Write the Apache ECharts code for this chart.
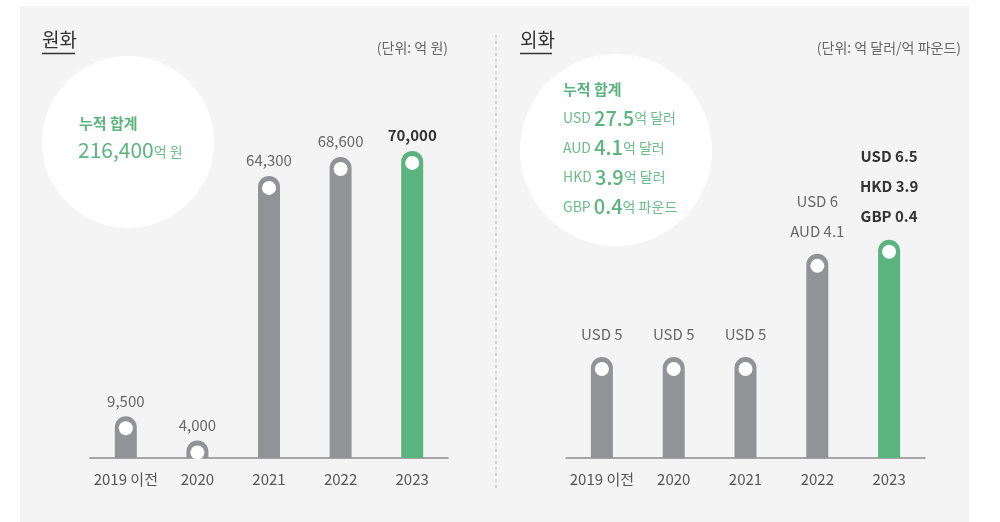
<!DOCTYPE html>
<html>
<head>
<meta charset="utf-8">
<title>원화 / 외화</title>
<script src="https://cdn.jsdelivr.net/npm/echarts@6/dist/echarts.min.js"></script>
<style>
  html, body { margin: 0; padding: 0; background: #fff; }
  #chart { width: 1000px; height: 522px; }
</style>
</head>
<body>
<div id="chart"></div>
<script>
// 카테고리 / 값
var years = ['2019 이전', '2020', '2021', '2022', '2023'];
// 원화 (억 원)
var krwValues = [9500, 4000, 64300, 68600, 70000];
// 외화 (억 달러/억 파운드) - 막대 높이는 통화별 합계
var fxValues = [5, 5, 5, 10.1, 10.8];
// 외화 라벨 (줄 단위)
var fxLabels = [
  ['USD 5'],
  ['USD 5'],
  ['USD 5'],
  ['USD 6', 'AUD 4.1'],
  ['USD 6.5', 'HKD 3.9', 'GBP 0.4']
];
// 누적 합계
var krwTotal = '216,400';
var fxTotals = [
  ['USD', '27.5', '억 달러'],
  ['AUD', '4.1', '억 달러'],
  ['HKD', '3.9', '억 달러'],
  ['GBP', '0.4', '억 파운드']
];

var GRAY = '#929396';
var GREEN = '#5bb47e';
var FONT = '"Noto Sans CJK KR", "Noto Sans", sans-serif';

var chart = echarts.init(document.getElementById('chart'));

function barData(vals) {
  return vals.map(function (v, i) {
    return {
      value: v,
      itemStyle: { color: i === vals.length - 1 ? GREEN : GRAY }
    };
  });
}

function krwLabel(p) {
  var s = p.value.toLocaleString('en-US');
  return p.dataIndex === krwValues.length - 1 ? '{b|' + s + '}' : '{n|' + s + '}';
}

function fxLabel(p) {
  var lines = fxLabels[p.dataIndex];
  var st = p.dataIndex === fxLabels.length - 1 ? 'b' : 'n';
  return lines.map(function (l) { return '{' + st + '|' + l + '}'; }).join('\n');
}

var xAxisBase = {
  type: 'category',
  axisTick: { show: false },
  axisLine: { lineStyle: { color: '#8c8c8c', width: 1.5 } },
  axisLabel: { color: '#555', fontSize: 15, fontFamily: FONT, margin: 14, interval: 0 }
};

// 누적 합계 텍스트 (오른쪽 원)
var fxText = [];
fxTotals.forEach(function (r, i) {
  fxText.push({
    type: 'text', left: 563, top: 108 + i * 29.5,
    style: {
      text: '{c|' + r[0] + ' }{v|' + r[1] + '}{u|' + r[2] + '}',
      rich: {
        c: { fontSize: 14, fill: '#6cbd8a', fontFamily: FONT },
        v: { fontSize: 20, fill: GREEN, fontFamily: FONT, fontWeight: 500 },
        u: { fontSize: 14, fill: '#6cbd8a', fontFamily: FONT }
      }
    }
  });
});

chart.setOption({
  animation: false,
  textStyle: { fontFamily: FONT },
  graphic: [
    { type: 'rect', z: -10, shape: { x: 20, y: 6, width: 949, height: 516 }, style: { fill: '#f5f4f5' } },
    { type: 'line', shape: { x1: 496, y1: 35, x2: 496, y2: 490 }, style: { stroke: '#b5b5b5', lineWidth: 1, lineDash: [3, 3] } },
    // 원화
    { type: 'text', left: 42, top: 30, style: { text: '원화', fontSize: 19, fill: '#333', fontFamily: FONT } },
    { type: 'line', shape: { x1: 42, y1: 53.5, x2: 75, y2: 53.5 }, style: { stroke: '#333', lineWidth: 1.5 } },
    { type: 'text', right: 552, top: 41, style: { text: '(단위: 억 원)', fontSize: 14, fill: '#666', fontFamily: FONT, align: 'right' } },
    { type: 'circle', shape: { cx: 128, cy: 142, r: 86 }, style: { fill: '#fff' } },
    { type: 'text', left: 79, top: 116, style: { text: '누적 합계', fontSize: 15, fontWeight: 'bold', fill: GREEN, fontFamily: FONT } },
    { type: 'text', left: 78, top: 140, style: {
      text: '{v|' + krwTotal + '}{u|억 원}',
      rich: {
        v: { fontSize: 21, fill: GREEN, fontFamily: FONT },
        u: { fontSize: 14, fill: '#6cbd8a', fontFamily: FONT, padding: [3, 0, 0, 0] }
      }
    } },
    // 외화
    { type: 'text', left: 520, top: 30, style: { text: '외화', fontSize: 19, fill: '#333', fontFamily: FONT } },
    { type: 'line', shape: { x1: 520, y1: 53.5, x2: 552, y2: 53.5 }, style: { stroke: '#333', lineWidth: 1.5 } },
    { type: 'text', right: 39, top: 41, style: { text: '(단위: 억 달러/억 파운드)', fontSize: 14, fill: '#666', fontFamily: FONT, align: 'right' } },
    { type: 'circle', shape: { cx: 616, cy: 150, r: 96 }, style: { fill: '#fff' } },
    { type: 'text', left: 563, top: 82, style: { text: '누적 합계', fontSize: 15, fontWeight: 'bold', fill: GREEN, fontFamily: FONT } }
  ].concat(fxText),
  grid: [
    { left: 90, right: 552, top: 107, bottom: 64 },
    { left: 566, right: 75, top: 171, bottom: 64 }
  ],
  xAxis: [
    Object.assign({ gridIndex: 0, data: years }, xAxisBase),
    Object.assign({ gridIndex: 1, data: years }, xAxisBase)
  ],
  yAxis: [
    { gridIndex: 0, type: 'value', min: 0, max: 80000, show: false, splitLine: { show: false } },
    { gridIndex: 1, type: 'value', min: 0, max: 14.2, show: false, splitLine: { show: false } }
  ],
  series: [
    {
      type: 'bar', xAxisIndex: 0, yAxisIndex: 0, barWidth: 22,
      data: barData(krwValues),
      itemStyle: { borderRadius: [11, 11, 0, 0] },
      label: {
        show: true, position: 'top', distance: 8, formatter: krwLabel,
        rich: {
          n: { fontSize: 15, color: '#666', fontFamily: FONT },
          b: { fontSize: 15, color: '#333', fontWeight: 'bold', fontFamily: FONT }
        }
      }
    },
    {
      type: 'scatter', xAxisIndex: 0, yAxisIndex: 0, symbol: 'circle', symbolSize: 14,
      symbolOffset: [0, 12], itemStyle: { color: '#fff', opacity: 1 }, z: 5, silent: true,
      data: krwValues
    },
    {
      type: 'bar', xAxisIndex: 1, yAxisIndex: 1, barWidth: 22,
      data: barData(fxValues),
      itemStyle: { borderRadius: [11, 11, 0, 0] },
      label: {
        show: true, position: 'top', distance: 8, formatter: fxLabel,
        rich: {
          n: { fontSize: 15, color: '#666', fontFamily: FONT, lineHeight: 30 },
          b: { fontSize: 15, color: '#333', fontWeight: 'bold', fontFamily: FONT, lineHeight: 30 }
        }
      }
    },
    {
      type: 'scatter', xAxisIndex: 1, yAxisIndex: 1, symbol: 'circle', symbolSize: 14,
      symbolOffset: [0, 12], itemStyle: { color: '#fff', opacity: 1 }, z: 5, silent: true,
      data: fxValues
    }
  ]
});
</script>
</body>
</html>
